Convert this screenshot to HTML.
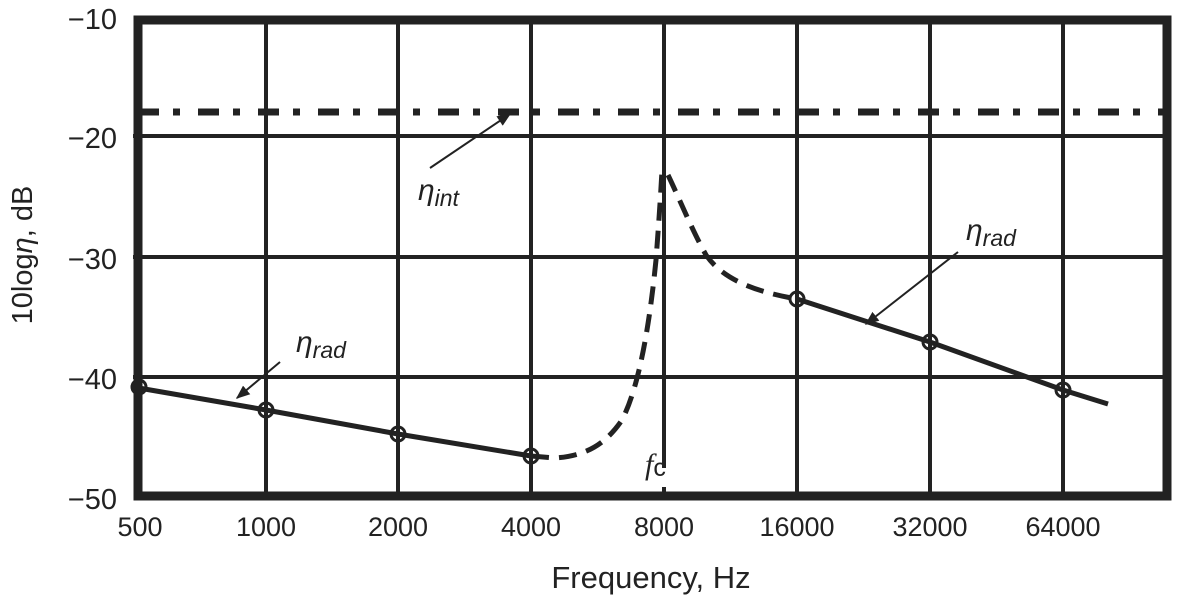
<!DOCTYPE html>
<html><head><meta charset="utf-8"><style>
html,body{margin:0;padding:0;background:#fff;}
svg{display:block;font-family:"Liberation Sans",sans-serif;}
</style></head><body>
<svg width="1183" height="596" viewBox="0 0 1183 596" xmlns="http://www.w3.org/2000/svg">
<defs>
<marker id="ah" viewBox="0 0 10 10" refX="9" refY="5" markerWidth="7" markerHeight="7" orient="auto"><path d="M0,1 L10,5 L0,9 z" fill="#222"/></marker>
</defs>
<g stroke="#222" stroke-width="4" fill="none">
<line x1="133" y1="136" x2="1168" y2="136"/>
<line x1="133" y1="257" x2="1168" y2="257"/>
<line x1="133" y1="377" x2="1168" y2="377"/>
<line x1="266" y1="18" x2="266" y2="497"/>
<line x1="398" y1="18" x2="398" y2="497"/>
<line x1="531" y1="18" x2="531" y2="497"/>
<line x1="797" y1="18" x2="797" y2="497"/>
<line x1="930" y1="18" x2="930" y2="497"/>
<line x1="1063" y1="18" x2="1063" y2="497"/>
<line x1="664" y1="18" x2="664" y2="468"/>
<line x1="664" y1="487" x2="664" y2="497"/>
</g>
<rect x="138" y="20" width="1029" height="476" fill="none" stroke="#222" stroke-width="9"/>
<line x1="138" y1="112" x2="1168" y2="112" stroke="#222" stroke-width="7" stroke-dasharray="21 14 7 18"/>
<polyline points="133,387 266,410 398,434 531,456" fill="none" stroke="#222" stroke-width="5"/>
<polyline points="797,299 930,342 1063,390 1108,404" fill="none" stroke="#222" stroke-width="5"/>
<path d="M531,456 L555,458 C585,456 605,445 622,420 C640,385 650,320 656,260 C659,220 661,190 662,170" fill="none" stroke="#222" stroke-width="5" stroke-dasharray="18 10"/>
<path d="M668,175 C680,200 692,230 706,255 C720,275 745,290 797,299" fill="none" stroke="#222" stroke-width="5" stroke-dasharray="18 10"/>
<g fill="none" stroke="#222" stroke-width="3">
<circle cx="139" cy="387" r="7"/><circle cx="266" cy="410" r="7"/><circle cx="398" cy="434" r="7"/><circle cx="531" cy="456" r="7"/>
<circle cx="797" cy="299" r="7"/><circle cx="930" cy="342" r="7"/><circle cx="1063" cy="390" r="7"/>
</g>
<g stroke="#222" stroke-width="2" fill="none" marker-end="url(#ah)">
<line x1="430" y1="168" x2="510" y2="114"/>
<line x1="280" y1="362" x2="237" y2="398"/>
<line x1="958" y1="252" x2="866" y2="324"/>
</g>
<g font-size="29" fill="#222" text-anchor="end">
<text x="117" y="29">−10</text><text x="117" y="148">−20</text><text x="117" y="269">−30</text><text x="117" y="389">−40</text><text x="117" y="509">−50</text>
</g>
<g font-size="27" fill="#222" text-anchor="middle">
<text x="140" y="536">500</text><text x="266" y="536">1000</text><text x="398" y="536">2000</text><text x="531" y="536">4000</text><text x="664" y="536">8000</text><text x="797" y="536">16000</text><text x="930" y="536">32000</text><text x="1063" y="536">64000</text>
<text x="651" y="588" font-size="31">Frequency, Hz</text>
</g>
<text transform="translate(32,255) rotate(-90)" font-size="29" text-anchor="middle" fill="#222">10log<tspan font-style="italic">η</tspan>, dB</text>
<g font-size="30" font-style="italic" fill="#222">
<text x="418" y="200">η<tspan font-size="23" dy="6">int</tspan></text>
<text x="296" y="352">η<tspan font-size="23" dy="6">rad</tspan></text>
<text x="966" y="240">η<tspan font-size="23" dy="6">rad</tspan></text>
</g>
<text x="645" y="474" font-size="30" fill="#222" font-family="Liberation Serif,serif" font-style="italic">f<tspan font-family="Liberation Sans,sans-serif" font-style="normal" font-size="25" dy="2">c</tspan></text>
</svg>
</body></html>
